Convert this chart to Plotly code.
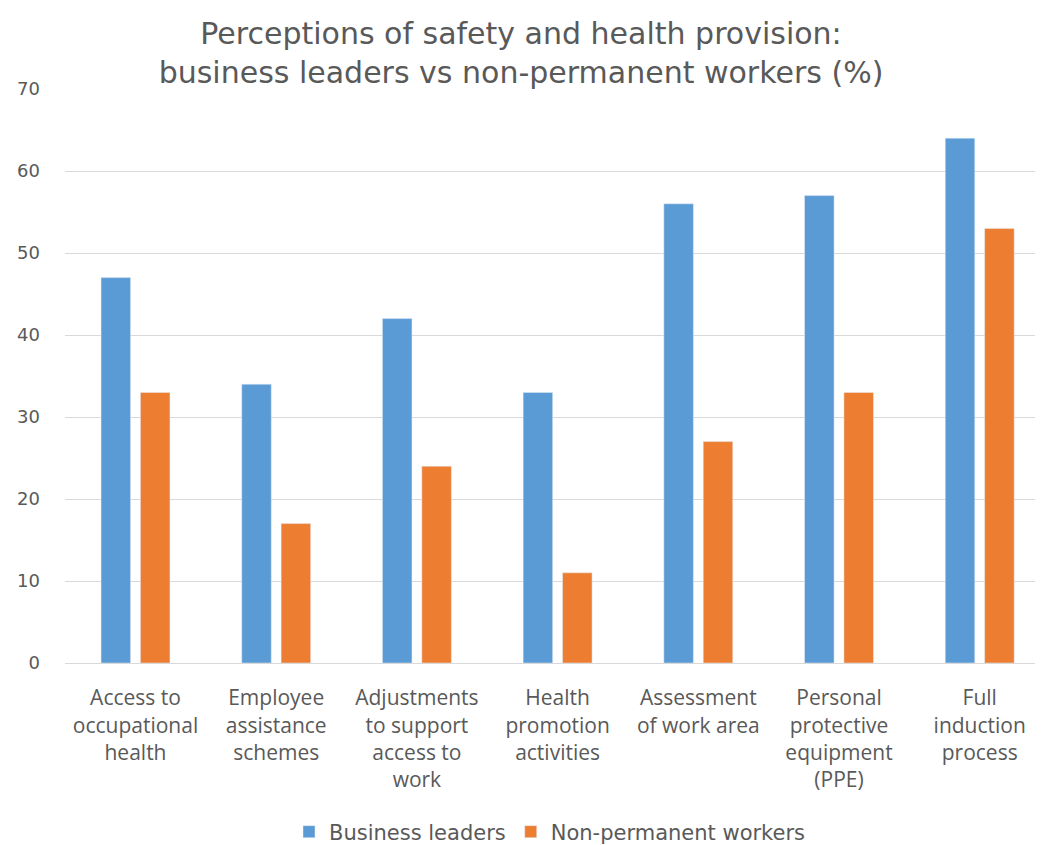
import plotly.graph_objects as go

categories = [
    "Access to<br>occupational<br>health",
    "Employee<br>assistance<br>schemes",
    "Adjustments<br>to support<br>access to<br>work",
    "Health<br>promotion<br>activities",
    "Assessment<br>of work area",
    "Personal<br>protective<br>equipment<br>(PPE)",
    "Full<br>induction<br>process",
]
business_leaders = [47, 34, 42, 33, 56, 57, 64]
non_permanent = [33, 17, 24, 11, 27, 33, 53]
y_ticks = [0, 10, 20, 30, 40, 50, 60, 70]

FONT = "Open Sans"
WIDE = "DejaVu Sans"
GREY = "#595959"

fig = go.Figure()
fig.add_trace(go.Bar(x=categories, y=business_leaders, name="Business leaders",
                     marker_color="#5B9BD5"))
fig.add_trace(go.Bar(x=categories, y=non_permanent, name="Non-permanent workers",
                     marker_color="#ED7D31"))

fig.update_layout(
    width=1042, height=845,
    margin=dict(l=65, r=7, t=89, b=182, autoexpand=False),
    paper_bgcolor="white", plot_bgcolor="white",
    font=dict(family=FONT, color=GREY, size=16),
    title=dict(text="Perceptions of safety and health provision:<br>business leaders vs non-permanent workers (%)",
               x=0.5, xanchor="center", y=0.948, yanchor="top",
               font=dict(size=30, color=GREY, family=WIDE)),
    barmode="group", bargap=0.44, bargroupgap=0.25,
    legend=dict(orientation="h", x=0.5, xanchor="center", y=-0.2944, yanchor="middle",
                font=dict(size=21, color=GREY, family=WIDE)),
    showlegend=True,
)
fig.update_yaxes(range=[0, 70], tickvals=y_ticks, showgrid=True, gridcolor="#d9d9d9",
                 gridwidth=1, zeroline=False, showline=False, ticks="",
                 tickfont=dict(size=18, color=GREY, family=WIDE), ticklabelstandoff=24)
fig.update_xaxes(range=[-0.501, 6.393], showline=True, linecolor="#d9d9d9", linewidth=1,
                 ticks="", tickfont=dict(size=21, color=GREY, family=FONT), tickangle=0,
                 ticklabelstandoff=16)

fig.write_html("out.html", config={"displayModeBar": False},
               post_script="document.body.style.margin='0';")
